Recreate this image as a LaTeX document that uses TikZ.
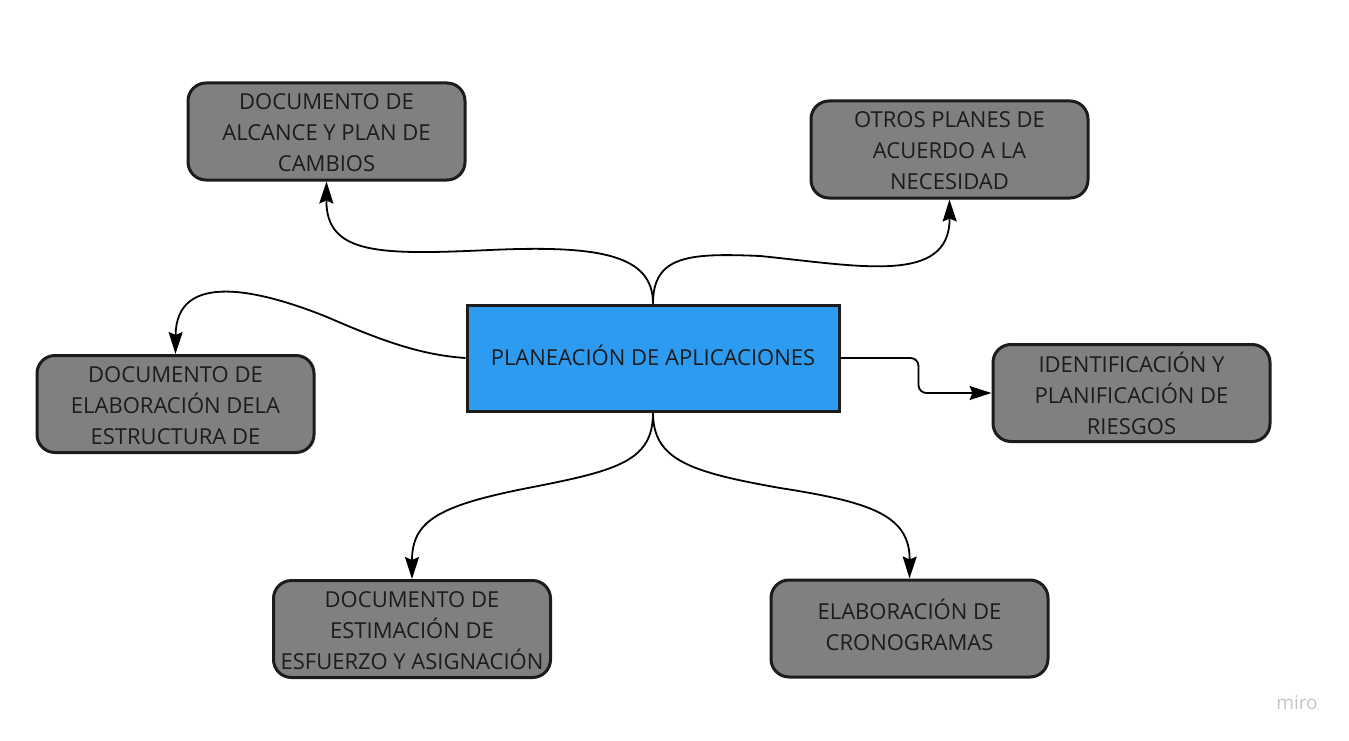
\documentclass[tikz,border=0pt]{standalone}
\usepackage{fontspec}
\setmainfont{Open Sans}
\usetikzlibrary{arrows.meta}
\definecolor{boxgray}{HTML}{808080}
\definecolor{boxblue}{HTML}{2D9BF0}
\definecolor{ink}{HTML}{1C1C1C}
\definecolor{logo}{HTML}{C4C4CC}
\begin{document}
\begin{tikzpicture}[x=1pt,y=-1pt,
 gbox/.style={draw=ink, fill=boxgray, line width=3pt, rounded corners=18pt, minimum width=277pt, minimum height=97pt, inner sep=0pt, align=center, text=ink, font=\fontsize{22}{31}\selectfont},
 cbox/.style={draw=ink, fill=boxblue, line width=3pt, minimum width=372pt, minimum height=106pt, inner sep=0pt, text=ink, font=\fontsize{22}{31}\selectfont},
 link/.style={draw=black, line width=1.8pt, -{Stealth[length=22pt,width=14pt,inset=3pt]}}]
\useasboundingbox (0,0) rectangle (1349,741);
\fill[white] (0,0) rectangle (1349,741);
\node[cbox] (c) at (653,358) {PLANEACIÓN DE APLICACIONES\rule[-6pt]{0pt}{0pt}};
\node[gbox] (b1) at (326.5,131.5) {\rule{0pt}{18pt}DOCUMENTO DE\\ALCANCE Y PLAN DE\\CAMBIOS};
\node[gbox] (b2) at (949.5,149.5) {\rule{0pt}{18pt}OTROS PLANES DE\\ACUERDO A LA\\NECESIDAD};
\node[gbox] (b4) at (175.5,404) {\rule{0pt}{20pt}DOCUMENTO DE\\ELABORACIÓN DELA\\ESTRUCTURA DE};
\node[gbox] (b5) at (1131.5,393) {IDENTIFICACIÓN Y\\PLANIFICACIÓN DE\\RIESGOS};
\node[gbox] (b6) at (412,629) {\rule{0pt}{19pt}DOCUMENTO DE\\ESTIMACIÓN DE\\ESFUERZO Y ASIGNACIÓN};
\node[gbox] (b7) at (909.5,628.5) {ELABORACIÓN DE\\CRONOGRAMAS\rule[-8pt]{0pt}{0pt}};
\draw[link] (c.north) .. controls (653,255) and (600,245) .. (490,250) .. controls (380,255) and (326,255) .. (b1.south);
\draw[link] (c.north) .. controls (653,255) and (690,253) .. (760,256) .. controls (860,266) and (950,285) .. (b2.south);
\draw[link] (c.west) .. controls (420,355) and (380,340) .. (327,317) .. controls (260,290) and (176,270) .. (b4.north);
\draw[link, rounded corners=8pt] (c.east) -- ++(78,0) |- (b5.west);
\draw[link] (c.south) .. controls (653,460) and (620,470) .. (533,487) .. controls (440,505) and (412,520) .. (b6.north);
\draw[link] (c.south) .. controls (653,460) and (690,472) .. (780,488) .. controls (870,502) and (910,515) .. (b7.north);
\node[text=logo, font=\fontsize{19}{19}\selectfont] (logo) at (1297,703) {miro};
\end{tikzpicture}
\end{document}
